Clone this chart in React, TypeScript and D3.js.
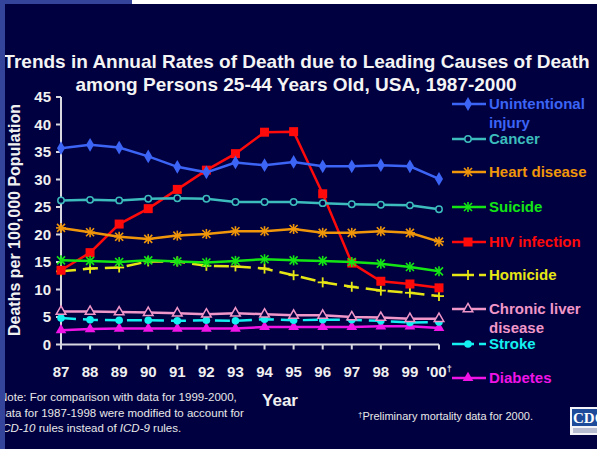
import React from "react";
import * as d3 from "d3";

const years = ["87", "88", "89", "90", "91", "92", "93", "94", "95", "96", "97", "98", "99", "'00"];
const yTicks = [0, 5, 10, 15, 20, 25, 30, 35, 40, 45];

const unintentional = [35.7, 36.3, 35.8, 34.2, 32.3, 31.3, 33.1, 32.6, 33.2, 32.4, 32.4, 32.6, 32.4, 30.1];
const cancer = [26.2, 26.3, 26.2, 26.5, 26.6, 26.5, 25.9, 25.9, 25.9, 25.7, 25.5, 25.4, 25.3, 24.6];
const heart = [21.2, 20.4, 19.6, 19.2, 19.8, 20.1, 20.6, 20.6, 21.0, 20.3, 20.3, 20.6, 20.3, 18.7];
const suicide = [15.3, 15.2, 15.0, 15.3, 15.1, 14.9, 15.2, 15.5, 15.3, 15.2, 15.0, 14.7, 14.1, 13.3];
const hiv = [13.5, 16.7, 21.9, 24.7, 28.2, 31.7, 34.7, 38.6, 38.7, 27.4, 14.8, 11.5, 11.0, 10.3];
const homicide = [13.3, 13.8, 14.0, 15.1, 15.1, 14.3, 14.2, 13.8, 12.6, 11.3, 10.5, 9.8, 9.4, 8.8];
const liver = [6.0, 6.0, 5.9, 5.8, 5.7, 5.5, 5.7, 5.5, 5.3, 5.3, 5.0, 4.9, 4.7, 4.7];
const stroke = [4.8, 4.5, 4.4, 4.4, 4.3, 4.4, 4.3, 4.6, 4.4, 4.5, 4.5, 4.3, 4.0, 4.1];
const diabetes = [2.6, 2.8, 2.9, 2.9, 2.9, 2.9, 2.9, 3.2, 3.2, 3.2, 3.2, 3.3, 3.3, 3.0];

type Marker = "diamond" | "openCircle" | "asterisk" | "xbar" | "square" | "plus" | "openTriangle" | "circle" | "triangle";

const seriesList: { name: string[]; values: number[]; color: string; marker: Marker; dashed: boolean; legendY: number }[] = [
  { name: ["Unintentional", "injury"], values: unintentional, color: "#3c64f5", marker: "diamond", dashed: false, legendY: 104 },
  { name: ["Cancer"], values: cancer, color: "#3cbcbc", marker: "openCircle", dashed: false, legendY: 139 },
  { name: ["Heart disease"], values: heart, color: "#f0960a", marker: "asterisk", dashed: false, legendY: 172 },
  { name: ["Suicide"], values: suicide, color: "#14e614", marker: "xbar", dashed: false, legendY: 207 },
  { name: ["HIV infection"], values: hiv, color: "#ff0a0a", marker: "square", dashed: false, legendY: 242 },
  { name: ["Homicide"], values: homicide, color: "#e6e614", marker: "plus", dashed: true, legendY: 275 },
  { name: ["Chronic liver", "disease"], values: liver, color: "#f096c8", marker: "openTriangle", dashed: false, legendY: 309 },
  { name: ["Stroke"], values: stroke, color: "#14f0f0", marker: "circle", dashed: true, legendY: 344 },
  { name: ["Diabetes"], values: diabetes, color: "#f014e6", marker: "triangle", dashed: false, legendY: 378 },
];

const FONT = "'Liberation Sans', Arial, sans-serif";
const BG = "#000040";

function MarkerShape({ type, x, y, color }: { type: Marker; x: number; y: number; color: string }) {
  const t = `translate(${x},${y})`;
  switch (type) {
    case "diamond":
      return <path transform={t} d={d3.symbol(d3.symbolDiamond, 55)() as string} fill={color} />;
    case "openCircle":
      return <circle cx={x} cy={y} r={3.2} fill={BG} stroke={color} strokeWidth={1.5} />;
    case "asterisk":
      return (
        <g transform={t} stroke={color} strokeWidth={1.6}>
          <line x1={-4} y1={-4} x2={4} y2={4} />
          <line x1={-4} y1={4} x2={4} y2={-4} />
          <line x1={0} y1={-5} x2={0} y2={5} />
          <line x1={-5} y1={0} x2={5} y2={0} />
        </g>
      );
    case "xbar":
      return (
        <g transform={t} stroke={color} strokeWidth={1.6}>
          <line x1={-4} y1={-4} x2={4} y2={4} />
          <line x1={-4} y1={4} x2={4} y2={-4} />
          <line x1={0} y1={-5} x2={0} y2={5} />
        </g>
      );
    case "square":
      return <rect x={x - 4.5} y={y - 4.5} width={9} height={9} fill={color} />;
    case "plus":
      return (
        <g transform={t} stroke={color} strokeWidth={1.8}>
          <line x1={0} y1={-5} x2={0} y2={5} />
          <line x1={-5} y1={0} x2={5} y2={0} />
        </g>
      );
    case "openTriangle":
      return <path transform={t} d={d3.symbol(d3.symbolTriangle, 40)() as string} fill={BG} stroke={color} strokeWidth={1.5} />;
    case "circle":
      return <circle cx={x} cy={y} r={3.8} fill={color} />;
    case "triangle":
      return <path transform={t} d={d3.symbol(d3.symbolTriangle, 50)() as string} fill={color} />;
  }
}

export default function App() {
  const W = 597;
  const H = 449;
  const x = d3.scalePoint<string>().domain(years).range([61, 439]);
  const y = d3.scaleLinear().domain([0, 45]).range([344.5, 97]);
  const line = d3
    .line<number>()
    .x((_, i) => x(years[i]) as number)
    .y((d) => y(d));
  const axisColor = "#d8d8e0";

  return (
    <svg width={W} height={H} style={{ position: "absolute", left: 0, top: 0 }} fontFamily={FONT}>
      <rect x={0} y={0} width={W} height={H} fill={BG} />

      {/* Title */}
      <text x={296.5} y={68} textAnchor="middle" fill="#f4f4f4" fontSize={19} fontWeight="bold">
        Trends in Annual Rates of Death due to Leading Causes of Death
      </text>
      <text x={296} y={91} textAnchor="middle" fill="#f4f4f4" fontSize={19} fontWeight="bold">
        among Persons 25-44 Years Old, USA, 1987-2000
      </text>

      {/* Y axis */}
      <line x1={61} x2={61} y1={y(45)} y2={y(0)} stroke={axisColor} strokeWidth={2} />
      {yTicks.map((t) => (
        <g key={t}>
          <line x1={56} x2={61} y1={y(t)} y2={y(t)} stroke={axisColor} strokeWidth={2} />
          <text x={51} y={y(t)} dy="0.36em" textAnchor="end" fill="#f0f0f0" fontSize={15} fontWeight="bold">
            {t}
          </text>
        </g>
      ))}
      <text
        transform={`translate(14,220) rotate(-90)`}
        textAnchor="middle"
        dy="0.36em"
        fill="#f0f0f0"
        fontSize={16}
        fontWeight="bold"
      >
        Deaths per 100,000 Population
      </text>

      {/* X axis */}
      <line x1={61} x2={439} y1={y(0)} y2={y(0)} stroke={axisColor} strokeWidth={2} />
      {years.map((yr) => (
        <g key={yr}>
          <line x1={x(yr)} x2={x(yr)} y1={y(0)} y2={y(0) + 5} stroke={axisColor} strokeWidth={2} />
          <text x={x(yr) as number} y={372} dy="0.36em" textAnchor="middle" fill="#f0f0f0" fontSize={15} fontWeight="bold">
            {yr}
            {yr === "'00" ? (
              <tspan fontSize={9} dy="-0.6em">
                †
              </tspan>
            ) : null}
          </text>
        </g>
      ))}
      <text x={280} y={400} dy="0.36em" textAnchor="middle" fill="#f0f0f0" fontSize={17} fontWeight="bold">
        Year
      </text>

      {/* Series lines */}
      {seriesList
        .slice()
        .reverse()
        .map((s) => (
          <g key={s.name[0]}>
            <path
              d={line(s.values) as string}
              fill="none"
              stroke={s.color}
              strokeWidth={2.5}
              strokeDasharray={s.dashed ? "15,7" : undefined}
            />
            {s.values.map((v, i) => (
              <MarkerShape key={i} type={s.marker} x={x(years[i]) as number} y={y(v)} color={s.color} />
            ))}
          </g>
        ))}

      {/* Legend */}
      {seriesList.map((s) => (
        <g key={"lg" + s.name[0]}>
          {s.dashed ? (
            <>
              <line x1={452} x2={474} y1={s.legendY} y2={s.legendY} stroke={s.color} strokeWidth={2.5} />
              <line x1={479} x2={486} y1={s.legendY} y2={s.legendY} stroke={s.color} strokeWidth={2.5} />
            </>
          ) : (
            <line x1={452} x2={486} y1={s.legendY} y2={s.legendY} stroke={s.color} strokeWidth={2.5} />
          )}
          <MarkerShape type={s.marker} x={468} y={s.legendY} color={s.color} />
          {s.name.map((n, j) => (
            <text key={j} x={489} y={s.legendY + j * 18.5} dy="0.36em" fill={s.color} fontSize={15} fontWeight="bold">
              {n}
            </text>
          ))}
        </g>
      ))}

      {/* Notes */}
      <g fill="#e8e8e8" fontSize={11.5}>
        <text x={-1} y={397} dy="0.36em">
          Note:  For comparison with data for 1999-2000,
        </text>
        <text x={-1} y={413} dy="0.36em">
          data for 1987-1998 were modified to account for
        </text>
        <text x={-1} y={428} dy="0.36em">
          <tspan fontStyle="italic">ICD-10</tspan> rules instead of <tspan fontStyle="italic">ICD-9</tspan> rules.
        </text>
      </g>
      <text x={358} y={419} dy="0.36em" fill="#e8e8e8" fontSize={11}>
        <tspan fontSize={8} dy="-0.3em">†</tspan>
        <tspan dy="0.3em">Preliminary mortality data for 2000.</tspan>
      </text>

      {/* CDC logo */}
      <rect x={570} y={407} width={30} height={28} fill="#f4f4f8" />
      <rect x={572} y={409} width={28} height={17} fill="#1e4a9a" />
      <text x={573} y={418} dy="0.36em" fill="#ffffff" fontSize={15} fontFamily="'Liberation Serif', serif" fontWeight="bold">
        CDC
      </text>
      <rect x={573} y={428} width={24} height={5} fill="#b8bcd0" />

      {/* Frame strips */}
      <rect x={0} y={0} width={5} height={H} fill="#34449a" />
      <rect x={0} y={0} width={132} height={4} fill="#34449a" />
      <rect x={132} y={0} width={W - 132} height={4} fill="#ffffff" />
    </svg>
  );
}
